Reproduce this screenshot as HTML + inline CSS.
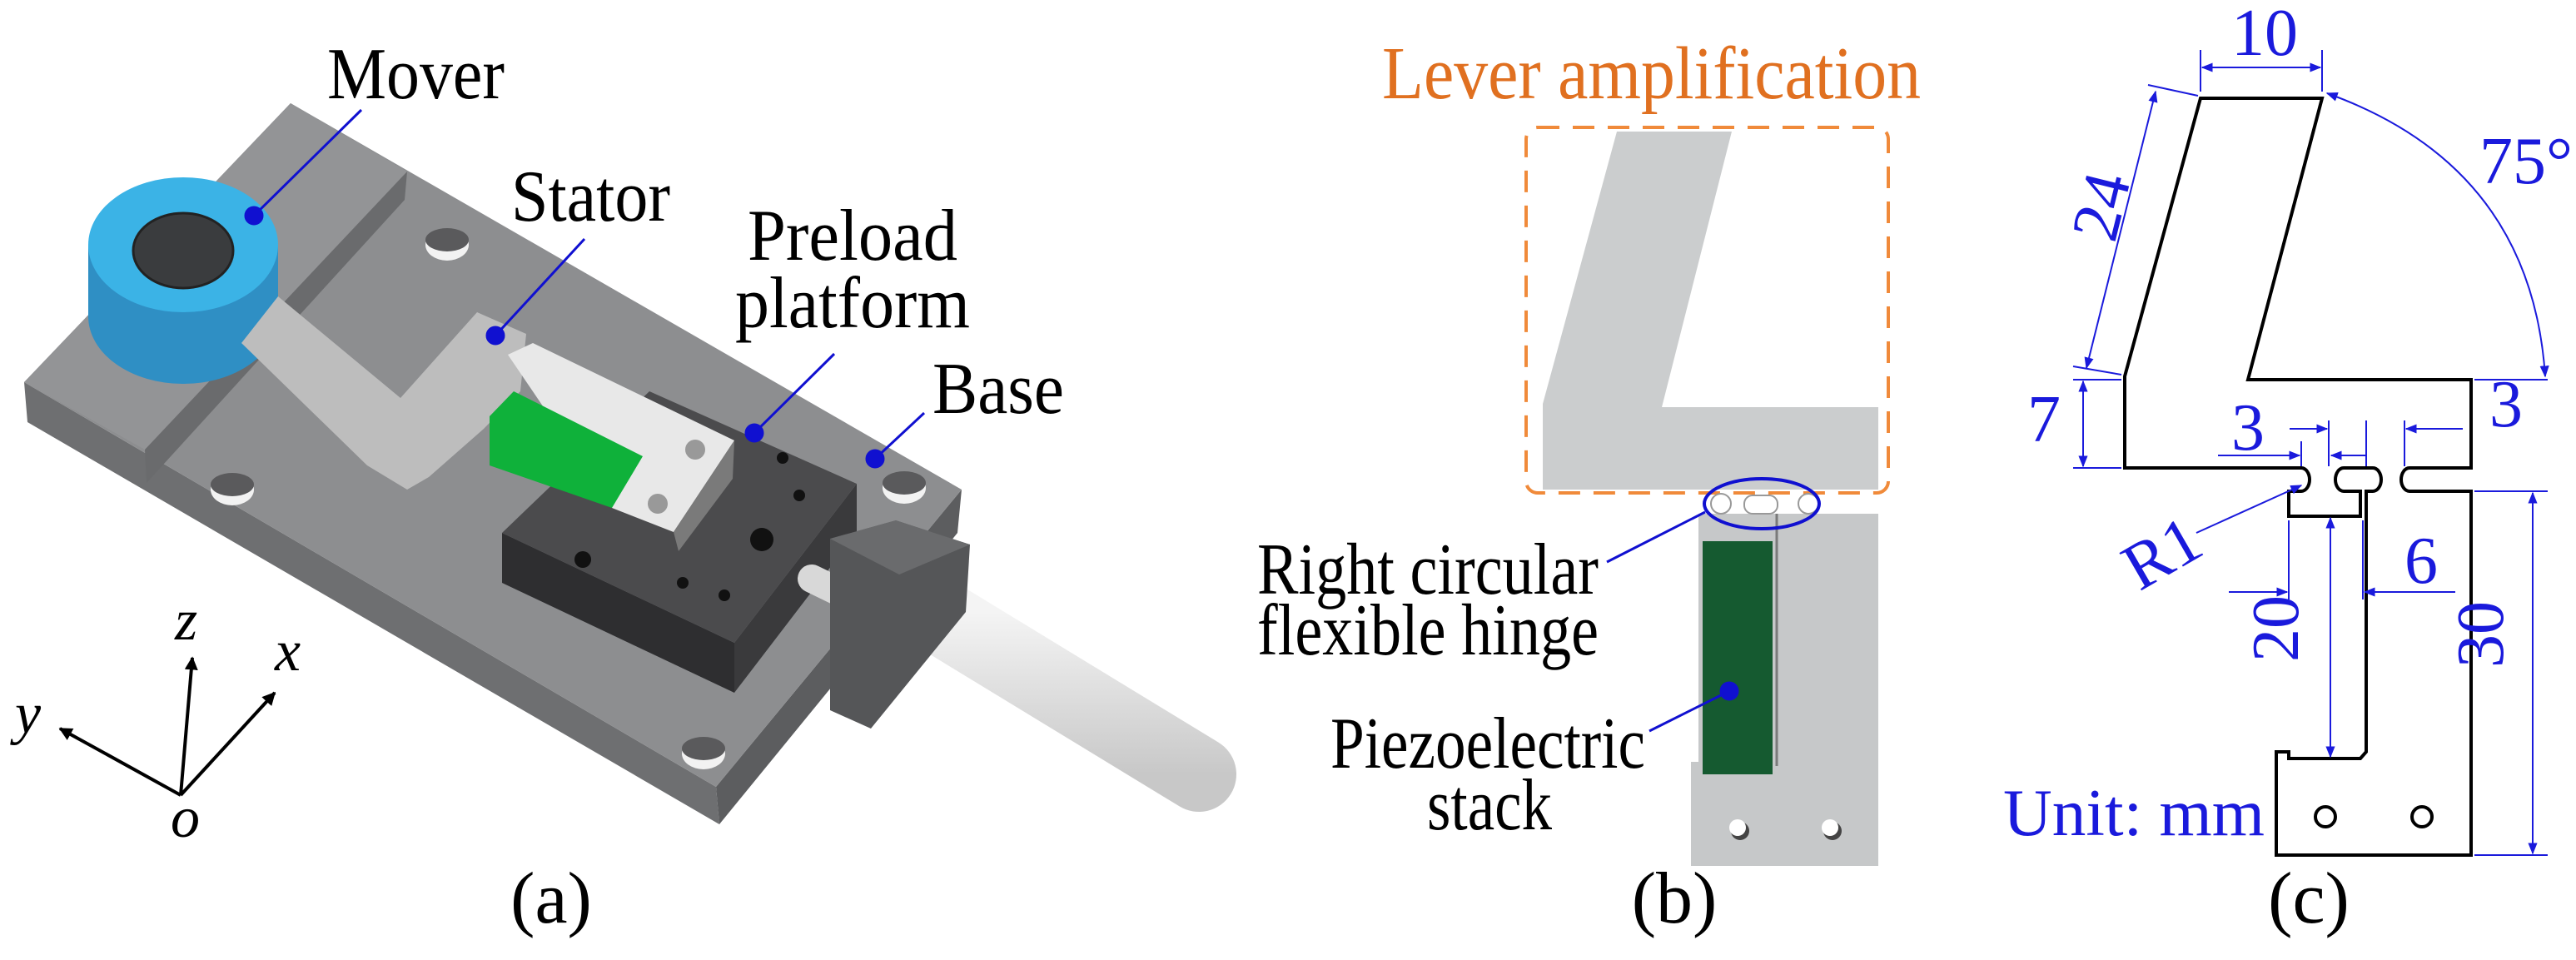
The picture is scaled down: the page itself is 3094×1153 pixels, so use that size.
<!DOCTYPE html>
<html><head><meta charset="utf-8"><style>
html,body{margin:0;padding:0;background:#fff;}
svg{display:block;}
text{font-family:"Liberation Serif",serif;}
</style></head><body>
<svg width="3094" height="1153" viewBox="0 0 3094 1153" xmlns="http://www.w3.org/2000/svg">
<defs>
<marker id="ab" viewBox="0 0 10 10" refX="9" refY="5" markerWidth="7" markerHeight="7" orient="auto-start-reverse"><path d="M0,1 L10,5 L0,9 z" fill="#1a1adc"/></marker>
<marker id="ak" viewBox="0 0 10 10" refX="9" refY="5" markerWidth="4" markerHeight="4" orient="auto"><path d="M0,0 L10,5 L0,10 z" fill="#000"/></marker>
<linearGradient id="mic" x1="0" y1="0" x2="0" y2="1"><stop offset="0" stop-color="#f4f4f4"/><stop offset="1" stop-color="#c8c8c8"/></linearGradient>
</defs>

<!-- ===== (a) ===== -->
<polygon points="29,459 860,945 864,990 33,507" fill="#6e6f71"/>
<polygon points="860,945 1155,588 1150,640 864,990" fill="#5c5d5f"/>
<polygon points="349,124 1155,588 860,945 29,459" fill="#8d8e90"/>
<polygon points="349,124 489,206 174,540 29,459" fill="#939496"/>
<polygon points="174,540 489,206 486,240 176,580" fill="#6a6b6d"/>
<ellipse cx="537" cy="294" rx="26" ry="19" fill="#f2f2f2"/><ellipse cx="537" cy="288" rx="26" ry="14" fill="#5a5a5c"/>
<ellipse cx="279" cy="588" rx="26" ry="19" fill="#f2f2f2"/><ellipse cx="279" cy="582" rx="26" ry="14" fill="#5a5a5c"/>
<ellipse cx="845" cy="905" rx="26" ry="19" fill="#f2f2f2"/><ellipse cx="845" cy="899" rx="26" ry="14" fill="#5a5a5c"/>
<ellipse cx="1086" cy="586" rx="26" ry="19" fill="#f2f2f2"/><ellipse cx="1086" cy="580" rx="26" ry="14" fill="#5a5a5c"/>
<polygon points="603,640 882,772 882,832 603,700" fill="#2e2e30"/>
<polygon points="882,772 1029,581 1029,640 882,832" fill="#3a3a3c"/>
<polygon points="603,640 780,470 1029,581 882,772" fill="#4b4b4d"/>
<circle cx="700" cy="672" r="10" fill="#111"/><circle cx="915" cy="648" r="14" fill="#111"/>
<circle cx="820" cy="700" r="7" fill="#111"/><circle cx="870" cy="715" r="7" fill="#111"/>
<circle cx="960" cy="595" r="7" fill="#111"/><circle cx="940" cy="550" r="7" fill="#111"/>
<line x1="975" y1="695" x2="1010" y2="712" stroke="#d8d8d8" stroke-width="34" stroke-linecap="round"/>
<line x1="1120" y1="735" x2="1440" y2="930" stroke="url(#mic)" stroke-width="90" stroke-linecap="round"/>
<polygon points="997,647 1076,625 1165,654 1160,735 1046,875 997,853" fill="#555658"/>
<polygon points="997,647 1076,625 1165,654 1080,690" fill="#6a6b6d"/>
<path d="M106,294 L106,380 A114,81 0 0 0 334,380 L334,294 z" fill="#2f8fc4"/>
<ellipse cx="220" cy="294" rx="114" ry="81" fill="#3bb3e6"/>
<ellipse cx="220" cy="301" rx="60" ry="45" fill="#3a3c3e" stroke="#222" stroke-width="3"/>
<polygon points="290,412 334,356 481,478 573,375 632,401 625,470 581,515 515,573 489,588 441,559" fill="#bdbdbd"/>
<polygon points="610,426 640,412 882,529 809,639 735,610" fill="#e8e8e8"/>
<polygon points="809,639 882,529 880,575 815,662" fill="#7a7a7a"/>
<polygon points="588,500 617,470 772,548 735,610 588,559" fill="#0fb13a"/>
<circle cx="835" cy="540" r="12" fill="#999"/><circle cx="790" cy="605" r="12" fill="#999"/>
<g stroke="#1010d0" stroke-width="3" fill="#1010d0">
<line x1="434" y1="132" x2="305" y2="259"/><circle cx="305" cy="259" r="10"/>
<line x1="702" y1="287" x2="595" y2="403"/><circle cx="595" cy="403" r="10"/>
<line x1="1002" y1="425" x2="906" y2="520"/><circle cx="906" cy="520" r="10"/>
<line x1="1110" y1="496" x2="1051" y2="551"/><circle cx="1051" cy="551" r="10"/>
</g>
<g font-size="88" fill="#000">
<text x="393" y="118" textLength="213" lengthAdjust="spacingAndGlyphs">Mover</text>
<text x="614" y="265" textLength="191" lengthAdjust="spacingAndGlyphs">Stator</text>
<text x="898" y="312" textLength="252" lengthAdjust="spacingAndGlyphs">Preload</text>
<text x="883" y="393" textLength="282" lengthAdjust="spacingAndGlyphs">platform</text>
<text x="1120" y="496" textLength="158" lengthAdjust="spacingAndGlyphs">Base</text>
<text x="662" y="1108" text-anchor="middle">(a)</text>
</g>
<g stroke="#000" stroke-width="4" fill="none">
<line x1="217" y1="955" x2="231" y2="790" marker-end="url(#ak)"/>
<line x1="217" y1="955" x2="330" y2="832" marker-end="url(#ak)"/>
<line x1="217" y1="955" x2="72" y2="875" marker-end="url(#ak)"/>
</g>
<g font-size="70" font-style="italic" fill="#000">
<text x="210" y="768">z</text><text x="330" y="805">x</text><text x="18" y="880">y</text><text x="205" y="1005">o</text>
</g>

<!-- ===== (b) ===== -->
<text x="1660" y="118" font-size="90" fill="#e07020" textLength="647" lengthAdjust="spacingAndGlyphs">Lever amplification</text>
<rect x="1833" y="153" width="435" height="439" rx="14" fill="none" stroke="#f08a3a" stroke-width="4" stroke-dasharray="26,16"/>
<polygon points="1942,158 2080,158 1996,489 2256,489 2256,588 1853,588 1853,485" fill="#cbcdce"/>
<polygon points="2031,617 2256,617 2256,1040 2031,1040 2031,915 2040,915 2040,617" fill="#c6c8c9"/>
<line x1="2134" y1="617" x2="2134" y2="920" stroke="#7a7a7a" stroke-width="3"/>
<rect x="2045" y="650" width="84" height="280" fill="#155a30"/>
<circle cx="2067" cy="605" r="12" fill="#fff" stroke="#999" stroke-width="2"/>
<rect x="2095" y="595" width="40" height="22" rx="10" fill="#fff" stroke="#999" stroke-width="2"/>
<circle cx="2172" cy="605" r="12" fill="#fff" stroke="#999" stroke-width="2"/>
<circle cx="2090" cy="998" r="11" fill="#444"/><circle cx="2087" cy="994" r="10" fill="#fff"/>
<circle cx="2201" cy="998" r="11" fill="#444"/><circle cx="2198" cy="994" r="10" fill="#fff"/>
<ellipse cx="2116" cy="605" rx="69" ry="30" fill="none" stroke="#1010d0" stroke-width="4"/>
<g stroke="#1010d0" stroke-width="3" fill="#1010d0">
<line x1="1930" y1="675" x2="2048" y2="615"/>
<line x1="1981" y1="878" x2="2077" y2="830"/><circle cx="2077" cy="830" r="10"/>
</g>
<g font-size="88" fill="#000">
<text x="1920" y="713" text-anchor="end" textLength="410" lengthAdjust="spacingAndGlyphs">Right circular</text>
<text x="1920" y="786" text-anchor="end" textLength="410" lengthAdjust="spacingAndGlyphs">flexible hinge</text>
<text x="1598" y="922" textLength="378" lengthAdjust="spacingAndGlyphs">Piezoelectric</text>
<text x="1789" y="996" text-anchor="middle" textLength="150" lengthAdjust="spacingAndGlyphs">stack</text>
<text x="2011" y="1108" text-anchor="middle">(b)</text>
</g>

<!-- ===== (c) ===== -->
<g fill="none" stroke="#000" stroke-width="4">
<path d="M2643,118 L2789,118 L2700,456 L2968,456 L2968,562 L2894,562 A10,14 0 0 0 2894,590 L2968,590 L2968,1027 L2734,1027 L2734,903 L2749,903 L2749,911 L2835,911 L2842,903 L2842,590 L2850,590 A10,14 0 0 0 2850,562 L2815,562 A10,14 0 0 0 2815,590 L2835,590 L2835,620 L2749,620 L2749,590 L2764,590 A10,14 0 0 0 2764,562 L2552,562 L2552,452 Z"/>
<circle cx="2793" cy="981" r="12"/><circle cx="2909" cy="981" r="12"/>
</g>
<g stroke="#1a1adc" stroke-width="2" fill="none">
<line x1="2643" y1="110" x2="2643" y2="60"/><line x1="2789" y1="110" x2="2789" y2="60"/>
<line x1="2645" y1="81" x2="2787" y2="81" marker-start="url(#ab)" marker-end="url(#ab)"/>
<line x1="2640" y1="115" x2="2580" y2="102"/><line x1="2548" y1="450" x2="2490" y2="440"/>
<line x1="2589" y1="110" x2="2506" y2="442" marker-start="url(#ab)" marker-end="url(#ab)"/>
<path d="M2795,112 Q3040,200 3057,452" marker-start="url(#ab)" marker-end="url(#ab)"/>
<line x1="2972" y1="456" x2="3060" y2="456"/>
<line x1="2548" y1="456" x2="2490" y2="456"/><line x1="2548" y1="562" x2="2490" y2="562"/>
<line x1="2502" y1="458" x2="2502" y2="560" marker-start="url(#ab)" marker-end="url(#ab)"/>
<line x1="2764" y1="530" x2="2764" y2="560"/><line x1="2797" y1="505" x2="2797" y2="560"/><line x1="2842" y1="505" x2="2842" y2="560"/><line x1="2888" y1="505" x2="2888" y2="560"/>
<line x1="2664" y1="547" x2="2762" y2="547" marker-end="url(#ab)"/>
<line x1="2842" y1="547" x2="2800" y2="547" marker-end="url(#ab)"/>
<line x1="2750" y1="515" x2="2795" y2="515" marker-end="url(#ab)"/>
<line x1="2958" y1="515" x2="2890" y2="515" marker-end="url(#ab)"/>
<line x1="2638" y1="640" x2="2764" y2="583" marker-end="url(#ab)"/>
<line x1="2749" y1="625" x2="2749" y2="720"/><line x1="2838" y1="625" x2="2838" y2="720"/>
<line x1="2677" y1="711" x2="2747" y2="711" marker-end="url(#ab)"/>
<line x1="2949" y1="711" x2="2840" y2="711" marker-end="url(#ab)"/>
<line x1="2799" y1="622" x2="2799" y2="909" marker-start="url(#ab)" marker-end="url(#ab)"/>
<line x1="2972" y1="590" x2="3060" y2="590"/><line x1="2972" y1="1027" x2="3060" y2="1027"/>
<line x1="3042" y1="592" x2="3042" y2="1025" marker-start="url(#ab)" marker-end="url(#ab)"/>
</g>
<g font-size="80" fill="#1a1adc">
<text x="2720" y="66" text-anchor="middle">10</text>
<text x="2978" y="220">75°</text>
<text x="2532" y="268" text-anchor="middle" transform="rotate(-76 2532 250)">24</text>
<text x="2435" y="530">7</text>
<text x="2680" y="540">3</text>
<text x="2990" y="512">3</text>
<text x="2600" y="690" text-anchor="middle" transform="rotate(-30 2600 670)">R1</text>
<text x="2888" y="700">6</text>
<text x="2785" y="780" text-anchor="middle" transform="rotate(-90 2760 780)">20</text>
<text x="3030" y="786" text-anchor="middle" transform="rotate(-90 3006 786)">30</text>
<text x="2406" y="1003" textLength="314" lengthAdjust="spacingAndGlyphs">Unit: mm</text>
</g>
<text x="2773" y="1108" text-anchor="middle" font-size="88" fill="#000">(c)</text>
</svg>
</body></html>
